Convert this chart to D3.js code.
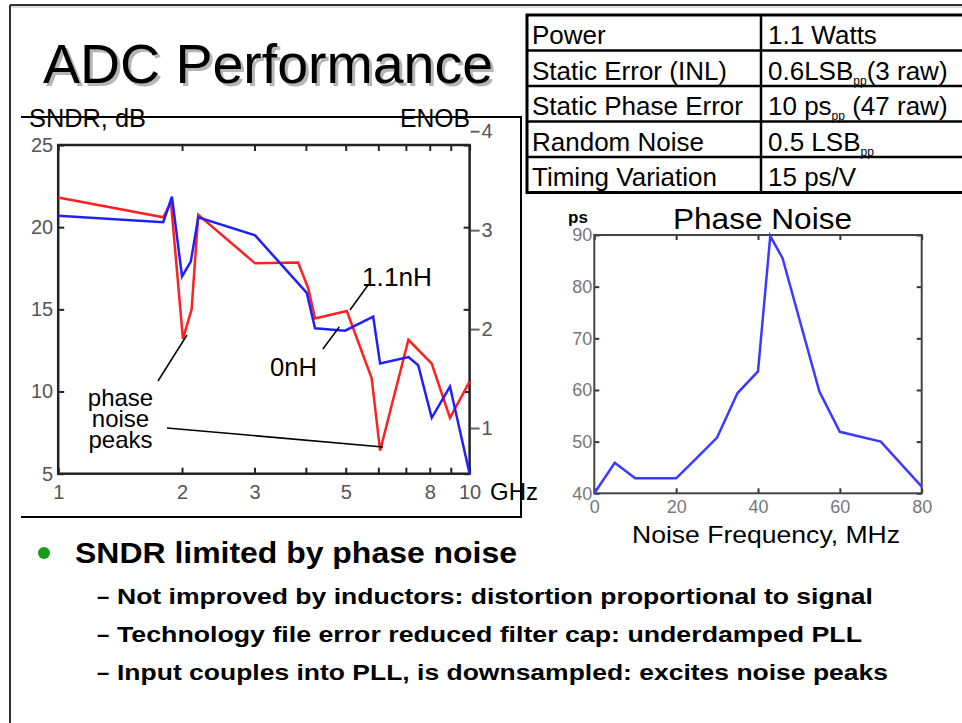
<!DOCTYPE html>
<html>
<head>
<meta charset="utf-8">
<script src="https://cdn.jsdelivr.net/npm/d3@7"></script>
<style>
body { margin: 0; background: #fff; }
svg { font-family: "Liberation Sans", Arial, sans-serif; }
</style>
</head>
<body>
<div id="chart"></div>
<script>
// SNDR vs input frequency
var ghz_11nH  = [1.0, 1.80, 1.88, 2.01, 2.11, 2.19, 3.01, 3.83, 4.05, 4.21, 5.03, 5.78, 6.06, 7.1, 8.09, 8.96, 10];
var sndr_11nH = [21.8, 20.6, 21.5, 13.2, 15.0, 20.75, 17.8, 17.85, 16.3, 14.45, 14.9, 10.8, 6.4, 13.15, 11.7, 8.4, 10.6];
var ghz_0nH   = [1.0, 1.80, 1.89, 2.0, 2.1, 2.19, 3.01, 4.02, 4.21, 4.98, 5.83, 6.06, 7.1, 7.5, 8.09, 8.96, 10];
var sndr_0nH  = [20.7, 20.3, 21.85, 17.0, 17.9, 20.6, 19.5, 16.0, 13.85, 13.7, 14.55, 11.7, 12.1, 11.6, 8.4, 10.3, 5.0];
var sndr_ticks = [5, 10, 15, 20, 25];
var enob_ticks = [1, 2, 3, 4];
var ghz_ticks = [1, 2, 3, 4, 5, 6, 7, 8, 9, 10];
var ghz_labels = [1, 2, 3, 5, 8, 10];

// phase noise spectrum
var noise_mhz = [0, 5, 10, 20, 25, 30, 35, 40, 43, 46, 55, 60, 70, 80];
var noise_ps  = [40, 45.9, 42.9, 42.9, 46.8, 50.8, 59.4, 63.6, 89.8, 85.5, 59.7, 51.9, 50, 41.3];
var mhz_ticks = [0, 20, 40, 60, 80];
var ps_ticks = [40, 50, 60, 70, 80, 90];

// table: odd entries of each value are subscripts
var table_names = ["Power", "Static Error (INL)", "Static Phase Error", "Random Noise", "Timing Variation"];
var table_values = [["1.1 Watts"], ["0.6LSB", "pp", "(3 raw)"], ["10 ps", "pp", " (47 raw)"], ["0.5 LSB", "pp"], ["15 ps/V"]];

var bullet_main = "SNDR limited by phase noise";
var bullet_subs = ["Not improved by inductors: distortion proportional to signal",
                   "Technology file error reduced filter cap: underdamped PLL",
                   "Input couples into PLL, is downsampled: excites noise peaks"];

var svg = d3.select("#chart").append("svg")
    .attr("width", 962)
    .attr("height", 723);

svg.append("rect").attr("width", 962).attr("height", 723).attr("fill", "white");

// slide frame
svg.append("line").attr("x1", 10).attr("x2", 962).attr("y1", 7).attr("y2", 7).attr("stroke", "#bbb").attr("stroke-width", 1);
svg.append("line").attr("x1", 10).attr("x2", 962).attr("y1", 5).attr("y2", 5).attr("stroke", "#333").attr("stroke-width", 2);
svg.append("line").attr("x1", 10).attr("x2", 10).attr("y1", 5).attr("y2", 723).attr("stroke", "#333").attr("stroke-width", 2);

// title with shadow
svg.append("text").attr("x", 46).attr("y", 86).attr("font-size", 55).attr("fill", "#b5b5b5")
    .attr("textLength", 450).attr("lengthAdjust", "spacingAndGlyphs").text("ADC Performance");
svg.append("text").attr("x", 43).attr("y", 83).attr("font-size", 55).attr("fill", "black")
    .attr("textLength", 450).attr("lengthAdjust", "spacingAndGlyphs").text("ADC Performance");

// ---------- left chart ----------
var x = d3.scaleLog().domain([1, 10]).range([58.2, 469.6]);
var y = d3.scaleLinear().domain([5, 25]).range([473.7, 145]);
var enob = d3.scaleLinear().domain([(5 - 1.76) / 6.02, (25 - 1.76) / 6.02]).range([473.7, 145]);

// frame round the chart (no left side)
svg.append("path").attr("d", "M21,117H521V517H21").attr("fill", "none").attr("stroke", "black").attr("stroke-width", 2);

svg.append("text").attr("x", 29).attr("y", 127).attr("font-size", 25)
    .attr("textLength", 117).attr("lengthAdjust", "spacingAndGlyphs").text("SNDR, dB");
svg.append("text").attr("x", 400).attr("y", 127).attr("font-size", 25)
    .attr("textLength", 70).attr("lengthAdjust", "spacingAndGlyphs").text("ENOB");

var tickColor = "#222", labelColor = "#555";

var gx = svg.append("g").attr("transform", "translate(0," + y(5) + ")")
    .call(d3.axisBottom(x).tickValues(ghz_ticks).tickSizeInner(-6).tickSizeOuter(0).tickPadding(11)
        .tickFormat(function(d) { return ghz_labels.indexOf(d) >= 0 ? d : ""; }));
svg.append("g").attr("transform", "translate(0," + y(25) + ")")
    .call(d3.axisTop(x).tickValues(ghz_ticks).tickSizeInner(-6).tickSizeOuter(0).tickFormat(""));
var gy = svg.append("g").attr("transform", "translate(" + x(1) + ",0)")
    .call(d3.axisLeft(y).tickValues(sndr_ticks).tickSizeInner(-6).tickSizeOuter(0).tickPadding(5));
svg.append("g").attr("transform", "translate(" + x(10) + ",0)")
    .call(d3.axisRight(y).tickValues(sndr_ticks).tickSizeInner(-6).tickSizeOuter(0).tickFormat(""));
var ge = svg.append("g").attr("transform", "translate(" + (x(10) + 1) + ",0)")
    .call(d3.axisRight(enob).tickValues(enob_ticks).tickSizeInner(9).tickSizeOuter(0).tickPadding(2)
        .tickFormat(d3.format("d")));

[gx, gy, ge].forEach(function(g) {
    g.selectAll("text").attr("font-size", 20).attr("fill", labelColor)
        .style("font-family", "'Liberation Sans', Arial, sans-serif");
});
svg.selectAll(".domain").remove();
svg.selectAll(".tick line").attr("stroke", tickColor).attr("stroke-width", 2);
ge.selectAll(".tick line").attr("stroke", "#666").attr("stroke-width", 2);

svg.append("rect")
    .attr("x", x(1)).attr("y", y(25))
    .attr("width", x(10) - x(1)).attr("height", y(5) - y(25))
    .attr("fill", "none").attr("stroke", "#222").attr("stroke-width", 2.5);

var lineGen = d3.line()
    .x(function(d) { return x(d[0]); })
    .y(function(d) { return y(d[1]); });

svg.append("path")
    .attr("d", lineGen(d3.zip(ghz_11nH, sndr_11nH)))
    .attr("stroke", "#ff2020").attr("stroke-width", 2.5).attr("fill", "none");
svg.append("path")
    .attr("d", lineGen(d3.zip(ghz_0nH, sndr_0nH)))
    .attr("stroke", "#2020ff").attr("stroke-width", 2.5).attr("fill", "none");

// annotations (pointer ends in GHz / dB)
var pointers = [[[5.66, 16.47], [5.12, 14.96]],
                [[4.40, 12.59], [4.82, 13.93]],
                [[1.748, 10.64], [2.056, 13.44]],
                [[1.838, 7.78], [6.16, 6.63]]];
pointers.forEach(function(p) {
    svg.append("line")
        .attr("x1", x(p[0][0])).attr("y1", y(p[0][1]))
        .attr("x2", x(p[1][0])).attr("y2", y(p[1][1]))
        .attr("stroke", "black").attr("stroke-width", 1.5);
});
svg.append("text").attr("x", 362).attr("y", 286).attr("font-size", 25)
    .attr("textLength", 70).attr("lengthAdjust", "spacingAndGlyphs").text("1.1nH");
svg.append("text").attr("x", 270).attr("y", 376).attr("font-size", 25)
    .attr("textLength", 47).attr("lengthAdjust", "spacingAndGlyphs").text("0nH");
["phase", "noise", "peaks"].forEach(function(t, i) {
    svg.append("text").attr("x", 120.5).attr("y", 406 + i * 21).attr("font-size", 24)
        .style("text-anchor", "middle").text(t);
});

svg.append("text").attr("x", 490).attr("y", 500).attr("font-size", 24).text("GHz");

// ---------- table ----------
var rowTop = 15, rowH = 35.5, tLeft = 527, tMid = 761;
svg.append("rect").attr("x", tLeft).attr("y", rowTop).attr("width", 500).attr("height", rowH * 5)
    .attr("fill", "white").attr("stroke", "black").attr("stroke-width", 3);
for (var i = 1; i < 5; i++) {
    svg.append("line").attr("x1", tLeft).attr("x2", 962)
        .attr("y1", rowTop + i * rowH).attr("y2", rowTop + i * rowH)
        .attr("stroke", "black").attr("stroke-width", 2.5);
}
svg.append("line").attr("x1", tMid).attr("x2", tMid).attr("y1", rowTop).attr("y2", rowTop + 5 * rowH)
    .attr("stroke", "black").attr("stroke-width", 2.5);

table_names.forEach(function(name, i) {
    svg.append("text").attr("x", tLeft + 5).attr("y", rowTop + i * rowH + 29)
        .attr("font-size", 26).text(name);
    var t = svg.append("text").attr("x", tMid + 7).attr("y", rowTop + i * rowH + 29).attr("font-size", 26);
    table_values[i].forEach(function(part, j) {
        var sub = j % 2 == 1;
        t.append("tspan")
            .attr("font-size", sub ? 12 : 26)
            .attr("dy", sub ? 5 : (j > 0 ? -5 : 0))
            .text(part);
    });
});

// ---------- phase noise chart ----------
var px = d3.scaleLinear().domain([0, 80]).range([594.3, 921.7]);
var py = d3.scaleLinear().domain([40, 90]).range([493.3, 235]);

var pb = svg.append("g").attr("transform", "translate(0," + py(40) + ")")
    .call(d3.axisBottom(px).tickValues(mhz_ticks).tickSizeInner(-5).tickSizeOuter(0).tickPadding(7));
var pl = svg.append("g").attr("transform", "translate(" + px(0) + ",0)")
    .call(d3.axisLeft(py).tickValues(ps_ticks).tickSizeInner(-5).tickSizeOuter(0).tickPadding(2));
var pt = svg.append("g").attr("transform", "translate(0," + py(90) + ")")
    .call(d3.axisTop(px).tickValues(mhz_ticks).tickSizeInner(-5).tickSizeOuter(0).tickFormat(""));
var pr = svg.append("g").attr("transform", "translate(" + px(80) + ",0)")
    .call(d3.axisRight(py).tickValues(ps_ticks).tickSizeInner(-5).tickSizeOuter(0).tickFormat(""));
[pb, pl].forEach(function(g) {
    g.selectAll("text").attr("font-size", 18).attr("fill", "#777")
        .style("font-family", "'Liberation Sans', Arial, sans-serif");
});
[pb, pl, pt, pr].forEach(function(g) {
    g.select(".domain").remove();
    g.selectAll(".tick line").attr("stroke", "#333").attr("stroke-width", 2);
});

svg.append("rect")
    .attr("x", px(0)).attr("y", py(90))
    .attr("width", px(80) - px(0)).attr("height", py(40) - py(90))
    .attr("fill", "none").attr("stroke", "#444").attr("stroke-width", 2);

var noiseLine = d3.line()
    .x(function(d) { return px(d[0]); })
    .y(function(d) { return py(d[1]); });
svg.append("path")
    .attr("d", noiseLine(d3.zip(noise_mhz, noise_ps)))
    .attr("stroke", "#3b3bff").attr("stroke-width", 2.5).attr("fill", "none");

svg.append("text").attr("x", 673).attr("y", 229).attr("font-size", 30)
    .attr("textLength", 179).attr("lengthAdjust", "spacingAndGlyphs").text("Phase Noise");
svg.append("text").attr("x", 568).attr("y", 223).attr("font-size", 17).attr("font-weight", "bold").text("ps");
svg.append("text").attr("x", 632).attr("y", 543).attr("font-size", 24)
    .attr("textLength", 268).attr("lengthAdjust", "spacingAndGlyphs").text("Noise Frequency, MHz");

// ---------- bullets ----------
svg.append("circle").attr("cx", 44).attr("cy", 553).attr("r", 6).attr("fill", "#179c17");
svg.append("text").attr("x", 75).attr("y", 563).attr("font-size", 29).attr("font-weight", "bold")
    .attr("textLength", 442).attr("lengthAdjust", "spacingAndGlyphs").text(bullet_main);

var subLen = [756, 745, 771];
bullet_subs.forEach(function(s, i) {
    svg.append("text").attr("x", 97).attr("y", 604 + i * 38).attr("font-size", 22).attr("font-weight", "bold").text("\u2013");
    svg.append("text").attr("x", 117).attr("y", 604 + i * 38).attr("font-size", 22).attr("font-weight", "bold")
        .attr("textLength", subLen[i]).attr("lengthAdjust", "spacingAndGlyphs").text(s);
});
</script>
</body>
</html>
